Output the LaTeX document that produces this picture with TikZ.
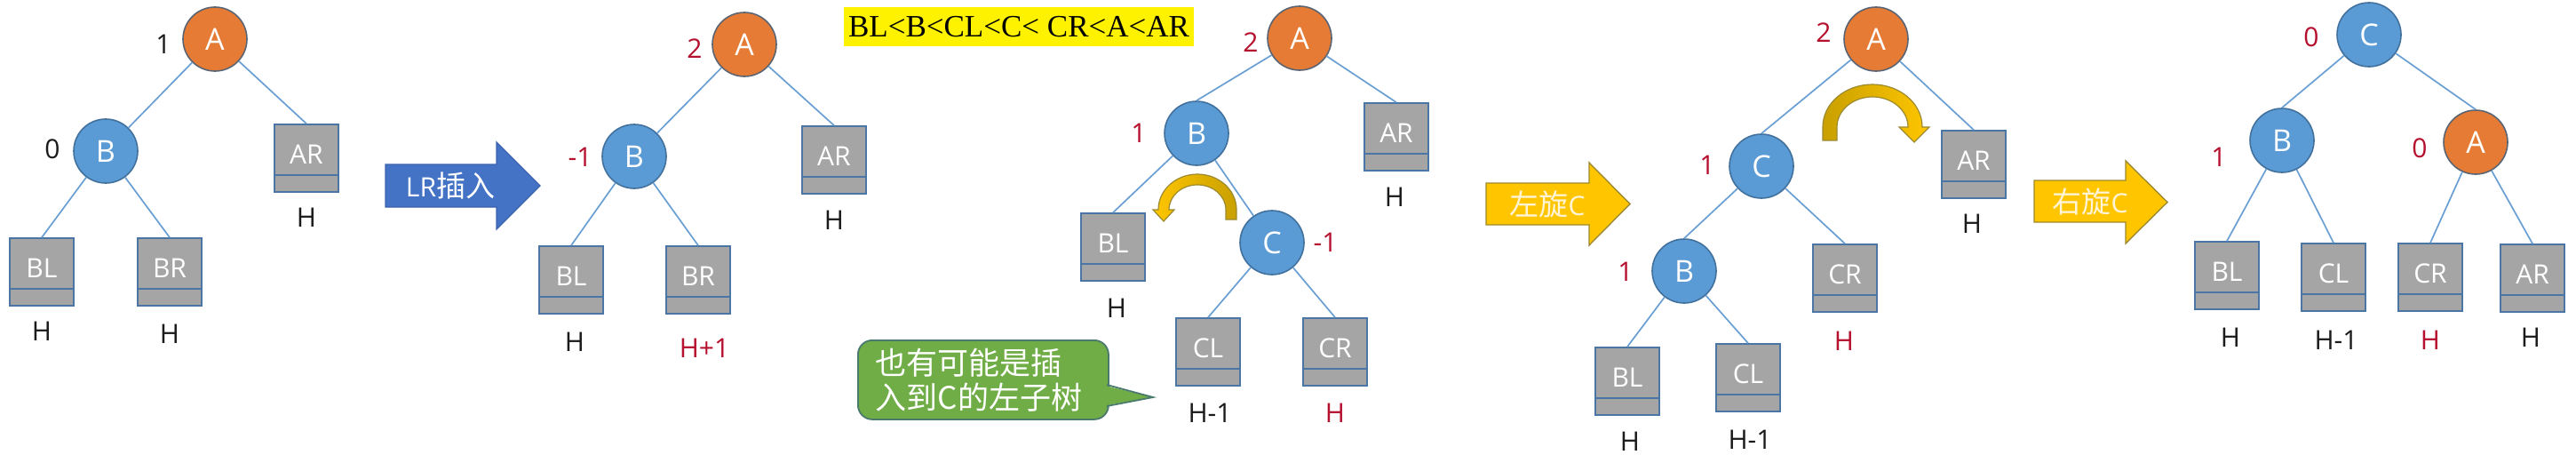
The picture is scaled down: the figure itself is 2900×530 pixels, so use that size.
\documentclass[tikz,border=0pt]{standalone}
\usepackage{fontspec}
\setmainfont{Open Sans}
\newfontfamily\cjk{Noto Sans CJK SC}
\newfontfamily\tnr{Liberation Serif}
\definecolor{nblue}{HTML}{5B9BD5}
\definecolor{norange}{HTML}{E57B35}
\definecolor{nline}{HTML}{41719C}
\definecolor{oline}{HTML}{5A6472}
\definecolor{bgray}{HTML}{A5A5A5}
\definecolor{bline}{HTML}{4A76A6}
\definecolor{edgeblue}{HTML}{6A9FD4}
\definecolor{balred}{HTML}{B5102E}
\definecolor{lblack}{HTML}{1A1A1A}
\definecolor{arrblue}{HTML}{4472C4}
\definecolor{arrblueline}{HTML}{3B64AD}
\definecolor{gold}{HTML}{FFC600}
\definecolor{goldline}{HTML}{9C8A30}
\definecolor{golddark}{HTML}{C9A000}
\definecolor{callgreen}{HTML}{70AD47}
\definecolor{callline}{HTML}{4A7A6E}
\definecolor{cream}{HTML}{FFF4D6}
\newcommand\up[1]{\raisebox{8pt}{#1}}
\begin{document}
\begin{tikzpicture}[x=1pt,y=-1pt,
  circ/.style={circle, minimum size=72pt, inner sep=0pt, line width=1.6pt, text=white, font=\fontsize{34}{38}\selectfont},
  bn/.style={circ, fill=nblue, draw=nline},
  on/.style={circ, fill=norange, draw=oline},
  sub/.style={rectangle, fill=bgray, draw=bline, line width=1.6pt, minimum width=72pt, minimum height=76pt, inner sep=0pt, text=white, font=\fontsize{30}{34}\selectfont,
    path picture={\draw[bline, line width=1.4pt] ([yshift=19pt]path picture bounding box.south west) -- ([yshift=19pt]path picture bounding box.south east);}},
  edge/.style={draw=edgeblue, line width=1.7pt},
  bal/.style={text=balred, font=\fontsize{30}{34}\selectfont, inner sep=0pt},
  balk/.style={bal, text=lblack},
  hk/.style={text=lblack, font=\fontsize{30}{34}\selectfont, inner sep=0pt},
  hr/.style={hk, text=balred},
  blockblue/.style={fill=arrblue, draw=arrblueline, line width=1.4pt},
  blockgold/.style={fill=gold, draw=goldline, line width=1.4pt},
  arrtext/.style={inner sep=0pt, font=\fontsize{30}{34}\selectfont},
  curv/.style={draw=goldline, line width=1.2pt},
  callout/.style={fill=callgreen, draw=callline, line width=1.8pt, rounded corners=16pt, minimum width=282pt, minimum height=89pt, inner xsep=20pt, inner ysep=0pt, text width=242pt, align=left, text=white, font=\cjk\fontsize{35}{39}\selectfont},
  hilite/.style={fill=yellow, inner sep=0pt, minimum width=394pt, minimum height=44pt, text=black, font=\tnr\fontsize{35}{40}\selectfont}
]
\useasboundingbox[fill=white] (0,0) rectangle (2900,530);

% ---------- panel 1
\node[on] (A1) at (242,44) {A};
\node[bn] (B1) at (119,170) {B};
\node[sub] (AR1) at (345,178) {\up{AR}};
\node[sub] (BL1) at (47,306) {\up{BL}};
\node[sub] (BR1) at (191,306) {\up{BR}};
\node[balk] (f1a) at (184,50) {1};
\node[balk] (f1b) at (59,168) {0};
\node[hk] (h1a) at (345,245) {H};
\node[hk] (h1b) at (47,373) {H};
\node[hk] (h1c) at (191,376) {H};
\draw[edge] (A1) -- (B1);
\draw[edge] (A1) -- (AR1.north);
\draw[edge] (B1) -- (BL1.north);
\draw[edge] (B1) -- (BR1.north);

% ---------- panel 2
\path[blockblue] (434,185) -- (559,185) -- (559,160) -- (608,209) -- (559,258) -- (559,233) -- (434,233) -- cycle;
\node[arrtext, text=white] (t2) at (507,209) {LR{\cjk\fontsize{33}{36}\selectfont 插入}};
\node[on] (A2) at (838,50) {A};
\node[bn] (B2) at (714,176) {B};
\node[sub] (AR2) at (939,180) {\up{AR}};
\node[sub] (BL2) at (643,315) {\up{BL}};
\node[sub] (BR2) at (786,315) {\up{BR}};
\node[bal] (f2a) at (782,55) {2};
\node[bal] (f2b) at (653,177) {-1};
\node[hk] (h2a) at (939,248) {H};
\node[hk] (h2b) at (647,385) {H};
\node[hr] (h2c) at (793,392) {H+1};
\draw[edge] (A2) -- (B2);
\draw[edge] (A2) -- (AR2.north);
\draw[edge] (B2) -- (BL2.north);
\draw[edge] (B2) -- (BR2.north);

% ---------- order text
\node[hilite] (order) at (1147,30) {BL<B<CL<C< CR<A<AR};

% ---------- panel 3
\node[on] (A3) at (1463,43) {A};
\node[bn] (B3) at (1347,150) {B};
\node[bn] (C3) at (1432,273) {C};
\node[sub] (AR3) at (1572,154) {\up{AR}};
\node[sub] (BL3) at (1253,278) {\up{BL}};
\node[sub] (CL3) at (1360,396) {\up{CL}};
\node[sub] (CR3) at (1503,396) {\up{CR}};
\node[bal] (f3a) at (1408,48) {2};
\node[bal] (f3b) at (1282,150) {1};
\node[bal] (f3c) at (1492,273) {-1};
\node[hk] (h3a) at (1570,222) {H};
\node[hk] (h3b) at (1257,347) {H};
\node[hk] (h3c) at (1362,465) {H-1};
\node[hr] (h3d) at (1503,465) {H};
\draw[edge] (A3) -- (B3.north);
\draw[edge] (A3) -- (AR3.north);
\draw[edge] (B3) -- (BL3.north);
\draw[edge] (B3) -- (C3);
\draw[edge] (C3) -- (CL3.north);
\draw[edge] (C3) -- (CR3.north);
\path[curv, left color=gold, right color=golddark]
  (1392,247) -- (1392,236) arc[start angle=0, end angle=-180, x radius=44, y radius=40]
  -- (1298,236) -- (1310,249) -- (1322,236) -- (1316,236)
  arc[start angle=-180, end angle=0, x radius=32, y radius=28] -- (1380,247) -- cycle;

% callout
\node[callout, anchor=north west] (note) at (965,382) {也有可能是插\\入到C的左子树};
\fill[callgreen] (1240,433) -- (1298,447) -- (1240,457) -- cycle;
\draw[callline, line width=1.8pt, line join=miter] (1246,433) -- (1298,447) -- (1246,457);

% ---------- panel 4
\path[blockgold] (1673,206) -- (1789,206) -- (1789,183) -- (1835,229.5) -- (1789,276) -- (1789,253) -- (1673,253) -- cycle;
\node[arrtext, text=cream] (t4) at (1742,230) {{\cjk\fontsize{33}{36}\selectfont 左旋}C};
\node[on] (A4) at (2112,44) {A};
\node[bn] (C4) at (1983,187) {C};
\node[bn] (B4) at (1896,305) {B};
\node[sub] (AR4) at (2222,185) {\up{AR}};
\node[sub] (CR4) at (2077,313) {\up{CR}};
\node[sub] (BL4) at (1832,429) {\up{BL}};
\node[sub] (CL4) at (1968,425) {\up{CL}};
\node[bal] (f4a) at (2053,37) {2};
\node[bal] (f4b) at (1922,186) {1};
\node[bal] (f4c) at (1830,306) {1};
\node[hk] (h4a) at (2220,252) {H};
\node[hr] (h4b) at (2076,384) {H};
\node[hk] (h4c) at (1835,497) {H};
\node[hk] (h4d) at (1970,495) {H-1};
\draw[edge] (A4) -- (C4.north);
\draw[edge] (A4) -- (AR4.north);
\draw[edge] (C4) -- (B4.north);
\draw[edge] (C4) -- (CR4.north);
\draw[edge] (B4) -- (BL4.north);
\draw[edge] (B4) -- (CL4.north);
\path[curv, left color=golddark, right color=gold]
  (2052,158) -- (2052,143) arc[start angle=180, end angle=360, x radius=56, y radius=48]
  -- (2172,143) -- (2155,160) -- (2138,143) -- (2148,143)
  arc[start angle=0, end angle=-180, x radius=40, y radius=34] -- (2068,158) -- cycle;

% ---------- panel 5
\path[blockgold] (2290,203) -- (2393,203) -- (2393,181) -- (2440,227.5) -- (2393,274) -- (2393,250) -- (2290,250) -- cycle;
\node[arrtext, text=cream] (t5) at (2353,227) {{\cjk\fontsize{33}{36}\selectfont 右旋}C};
\node[bn] (C5) at (2667,39) {C};
\node[bn] (B5) at (2569,158) {B};
\node[on] (A5) at (2787,160) {A};
\node[sub] (BL5) at (2507,310) {\up{BL}};
\node[sub] (CL5) at (2627,312) {\up{CL}};
\node[sub] (CR5) at (2736,312) {\up{CR}};
\node[sub] (AR5) at (2851,313) {\up{AR}};
\node[bal] (f5a) at (2602,42) {0};
\node[bal] (f5b) at (2498,177) {1};
\node[bal] (f5c) at (2724,167) {0};
\node[hk] (h5a) at (2511,380) {H};
\node[hk] (h5b) at (2630,383) {H-1};
\node[hr] (h5c) at (2736,383) {H};
\node[hk] (h5d) at (2849,380) {H};
\draw[edge] (C5) -- (B5.north);
\draw[edge] (C5) -- (A5.north);
\draw[edge] (B5) -- (BL5.north);
\draw[edge] (B5) -- (CL5.north);
\draw[edge] (A5) -- (CR5.north);
\draw[edge] (A5) -- (AR5.north);
\end{tikzpicture}
\end{document}
